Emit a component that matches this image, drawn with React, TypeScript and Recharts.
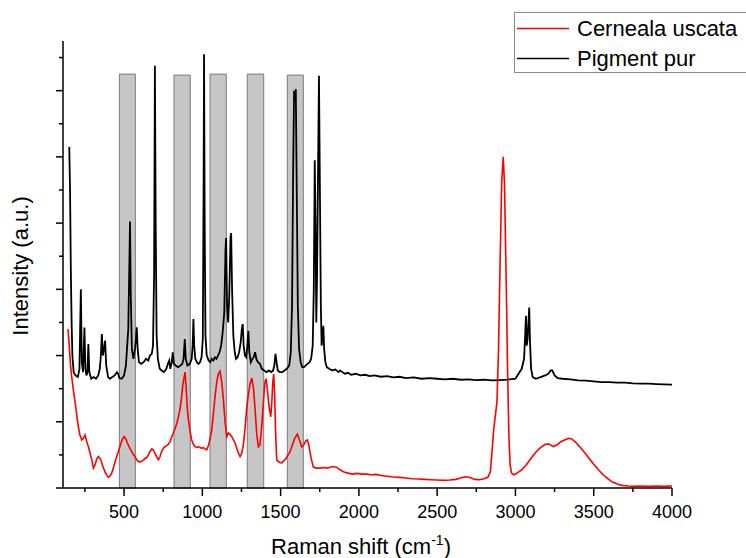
import React from "react";
import { LineChart, Line, XAxis, YAxis, ReferenceArea } from "recharts";

// Pigment pur (black)
const pigmentShift = [
  150, 155, 160, 165, 170, 178, 190, 205, 215, 224, 230, 238, 247, 253, 260, 266, 272, 278, 290, 305,
  320, 335, 345, 352, 358, 365, 372, 379, 386, 398, 410, 425, 440, 455, 462, 470, 485, 500, 512, 520,
  527, 533, 538, 543, 550, 560, 570, 576, 581, 587, 595, 610, 625, 640, 655, 665, 677, 685, 692, 697,
  702, 708, 716, 728, 740, 755, 770, 780, 789, 795, 805, 811, 818, 830, 845, 860, 872, 880, 888, 894,
  905, 920, 932, 938, 943, 948, 955, 965, 975, 985, 995, 1003, 1008, 1011, 1015, 1020, 1028, 1040, 1050, 1060,
  1070, 1080, 1090, 1100, 1110, 1120, 1130, 1140, 1148, 1152, 1158, 1165, 1172, 1180, 1184, 1190, 1198, 1207, 1215, 1225,
  1235, 1245, 1252, 1258, 1264, 1272, 1280, 1288, 1294, 1300, 1310, 1320, 1328, 1337, 1345, 1355, 1368, 1380, 1395, 1410,
  1425, 1440, 1452, 1460, 1467, 1474, 1482, 1495, 1510, 1525, 1540, 1555, 1565, 1573, 1580, 1586, 1591, 1597, 1603, 1610,
  1618, 1628, 1638, 1650, 1660, 1672, 1685, 1695, 1705, 1712, 1718, 1723, 1728, 1733, 1738, 1745, 1751, 1757, 1762, 1768,
  1773, 1778, 1786, 1795, 1810, 1830, 1850, 1870, 1880, 1895, 1910, 1930, 1950, 1980, 2010, 2040, 2070, 2100, 2140, 2180,
  2220, 2260, 2300, 2350, 2400, 2450, 2500, 2550, 2600, 2650, 2700, 2750, 2800, 2850, 2900, 2950, 3000, 3020, 3040, 3055,
  3062, 3067, 3072, 3078, 3083, 3088, 3093, 3100, 3110, 3130, 3160, 3190, 3210, 3225, 3235, 3250, 3270, 3300, 3350, 3400,
  3450, 3500, 3550, 3600, 3650, 3700, 3750, 3800, 3850, 3900, 3950, 4000,
];
const pigmentIntensity = [
  10.3, 9.0, 6.6, 5.0, 4.0, 3.5, 3.4, 3.35, 3.6, 6.0, 3.8, 3.5, 4.85, 3.6, 3.4, 3.5, 4.35, 3.5, 3.3, 3.35,
  3.3, 3.4, 3.6, 4.0, 4.65, 4.0, 4.2, 4.45, 3.7, 3.35, 3.3, 3.35, 3.4, 3.5, 3.45, 3.32, 3.3, 3.4, 3.7, 4.3,
  4.8, 6.5, 8.05, 5.8, 4.2, 3.9, 4.2, 4.5, 4.85, 4.2, 3.8, 3.75, 3.8, 3.9, 3.85, 4.0, 4.05, 4.3, 6.5, 12.75,
  8.0, 4.6, 3.9, 3.6, 3.55, 3.5, 3.6, 3.75, 3.85, 3.6, 3.8, 4.1, 3.75, 3.7, 3.65, 3.7, 3.75, 3.9, 4.5, 3.9,
  3.7, 3.75, 3.9, 4.3, 5.1, 4.3, 3.9, 3.8, 3.75, 3.8, 3.95, 4.5, 9.0, 13.1, 8.0, 4.6, 4.0, 3.85, 3.8, 3.9,
  3.85, 3.95, 3.9, 4.0, 4.1, 4.3, 4.7, 5.3, 7.2, 7.55, 5.5, 5.0, 5.8, 7.6, 7.7, 6.0, 4.6, 4.1, 3.9, 3.95,
  4.1, 4.4, 4.8, 4.95, 4.3, 4.0, 3.95, 4.3, 4.75, 4.1, 3.8, 3.9, 3.95, 4.1, 3.9, 3.8, 3.75, 3.6, 3.55, 3.5,
  3.55, 3.5, 3.55, 3.7, 4.05, 3.8, 3.55, 3.5, 3.5, 3.55, 3.6, 3.7, 4.1, 5.5, 9.5, 12.0, 11.7, 12.05, 9.0, 5.5,
  4.2, 3.8, 3.65, 3.65, 3.7, 3.75, 3.8, 3.9, 4.3, 6.0, 9.9, 8.0, 5.0, 6.5, 9.0, 12.45, 9.0, 5.5, 4.3, 4.6,
  4.9, 4.2, 3.8, 3.65, 3.6, 3.55, 3.58, 3.5, 3.55, 3.5, 3.45, 3.48, 3.42, 3.45, 3.4, 3.42, 3.38, 3.4, 3.36, 3.38,
  3.34, 3.36, 3.32, 3.34, 3.3, 3.32, 3.3, 3.28, 3.3, 3.27, 3.28, 3.26, 3.27, 3.25, 3.26, 3.27, 3.3, 3.45, 3.6, 3.9,
  4.6, 5.2, 4.3, 4.5, 5.0, 5.45, 4.4, 3.6, 3.35, 3.3, 3.35, 3.4, 3.45, 3.55, 3.55, 3.4, 3.32, 3.3, 3.28, 3.25,
  3.24, 3.22, 3.2, 3.2, 3.18, 3.18, 3.16, 3.15, 3.15, 3.14, 3.13, 3.12,
];

// Cerneala uscata (red)
const inkShift = [
  142, 150, 158, 166, 175, 187, 198, 208, 218, 230, 240, 251, 262, 272, 283, 294, 304, 315, 326, 336,
  345, 351, 365, 379, 390, 400, 410, 421, 432, 443, 453, 464, 474, 487, 500, 510, 521, 535, 549, 560,
  570, 581, 592, 602, 614, 625, 635, 645, 655, 665, 677, 687, 697, 708, 719, 730, 740, 751, 762, 772,
  783, 794, 805, 815, 826, 837, 847, 858, 868, 875, 882, 890, 897, 904, 911, 922, 932, 945, 955, 964,
  975, 985, 996, 1006, 1017, 1028, 1040, 1050, 1060, 1070, 1081, 1092, 1102, 1113, 1124, 1134, 1145, 1156, 1166, 1177,
  1188, 1199, 1209, 1220, 1230, 1241, 1252, 1262, 1273, 1284, 1295, 1305, 1316, 1327, 1338, 1348, 1358, 1368, 1380, 1393,
  1400, 1407, 1415, 1425, 1437, 1444, 1450, 1456, 1462, 1468, 1475, 1490, 1507, 1520, 1535, 1548, 1560, 1575, 1590, 1607,
  1620, 1635, 1648, 1660, 1671, 1682, 1695, 1709, 1730, 1751, 1775, 1800, 1830, 1858, 1880, 1905, 1930, 1960, 1990, 2020,
  2050, 2080, 2110, 2140, 2170, 2218, 2260, 2300, 2340, 2380, 2420, 2460, 2500, 2540, 2580, 2620, 2650, 2680, 2710, 2740,
  2770, 2800, 2825, 2840, 2852, 2862, 2872, 2882, 2892, 2902, 2912, 2922, 2930, 2940, 2950, 2958, 2966, 2975, 2990, 3010,
  3040, 3070, 3100, 3130, 3160, 3190, 3215, 3240, 3265, 3290, 3315, 3340, 3360, 3385, 3410, 3440, 3470, 3500, 3530, 3560,
  3590, 3620, 3650, 3680, 3720, 3760, 3800, 3850, 3900, 3950, 4000,
];
const inkIntensity = [
  4.8, 4.3, 3.7, 3.35, 3.0, 2.6, 2.2, 1.85, 1.6, 1.45, 1.5, 1.6, 1.4, 1.25, 1.05, 0.85, 0.6, 0.7, 0.88, 0.95,
  0.9, 0.85, 0.65, 0.48, 0.38, 0.32, 0.36, 0.45, 0.6, 0.8, 0.95, 1.1, 1.25, 1.45, 1.55, 1.5, 1.36, 1.22, 1.1, 1.0,
  0.95, 0.85, 0.8, 0.78, 0.82, 0.85, 0.9, 0.92, 1.0, 1.1, 1.18, 1.15, 1.05, 0.95, 0.85, 0.95, 1.1, 1.2, 1.25, 1.28,
  1.32, 1.4, 1.55, 1.66, 1.8, 1.95, 2.15, 2.4, 2.75, 3.1, 3.3, 3.5, 3.0, 2.4, 2.05, 1.7, 1.45, 1.3, 1.25, 1.22,
  1.25, 1.22, 1.2, 1.22, 1.18, 1.15, 1.3, 1.5, 1.75, 2.2, 2.75, 3.2, 3.45, 3.53, 3.2, 2.7, 2.0, 1.55, 1.66, 1.62,
  1.55, 1.45, 1.36, 1.2, 1.05, 0.95, 1.05, 1.3, 1.8, 2.45, 2.85, 3.15, 3.32, 3.0, 2.3, 1.6, 1.25, 1.3, 1.9, 2.8,
  3.2, 3.3, 3.0, 2.5, 2.15, 2.6, 3.2, 3.44, 2.8, 1.7, 0.85, 0.78, 0.76, 0.82, 0.9, 1.0, 1.09, 1.3, 1.5, 1.63,
  1.45, 1.24, 1.3, 1.42, 1.45, 1.25, 0.9, 0.63, 0.6, 0.6, 0.62, 0.6, 0.65, 0.63, 0.55, 0.48, 0.45, 0.42, 0.44, 0.42,
  0.42, 0.4, 0.41, 0.38, 0.36, 0.33, 0.32, 0.3, 0.28, 0.27, 0.26, 0.25, 0.24, 0.23, 0.24, 0.26, 0.3, 0.34, 0.32, 0.26,
  0.25, 0.28, 0.33, 0.5, 1.2, 1.8, 2.2, 2.6, 4.2, 6.8, 9.2, 10.0, 9.2, 6.5, 3.5, 1.6, 0.7, 0.45, 0.4, 0.45,
  0.55, 0.7, 0.9, 1.08, 1.22, 1.32, 1.33, 1.25, 1.3, 1.4, 1.45, 1.5, 1.48, 1.38, 1.25, 1.08, 0.9, 0.72, 0.55, 0.4,
  0.28, 0.18, 0.12, 0.08, 0.06, 0.05, 0.06, 0.05, 0.06, 0.05, 0.06,
];

// shaded bands
const bandStart = [470, 819, 1049, 1287, 1543];
const bandEnd = [572, 923, 1153, 1392, 1645];
const bandTop = [12.5, 12.47, 12.5, 12.5, 12.47];

const xTicks = [250, 500, 750, 1000, 1250, 1500, 1750, 2000, 2250, 2500, 2750, 3000, 3250, 3500, 3750, 4000];
const yTicks = [0, 1, 2, 3, 4, 5, 6, 7, 8, 9, 10, 11, 12, 13];

const pigmentData = pigmentShift.map((shift, i) => ({ shift, intensity: pigmentIntensity[i] }));
const inkData = inkShift.map((shift, i) => ({ shift, intensity: inkIntensity[i] }));

const FONT = "'Liberation Sans', Arial, sans-serif";

const XTick = (props: any) => {
  const { x, y, payload } = props;
  const major = payload.value % 500 === 0;
  return (
    <g>
      <line x1={x} x2={x} y1={y} y2={y + (major ? 8 : 4)} stroke="#000" strokeWidth={1.5} />
      {major && (
        <text x={x} y={y + 30} textAnchor="middle" fontSize={18} fontFamily={FONT} fill="#000">
          {payload.value}
        </text>
      )}
    </g>
  );
};

const YTick = (props: any) => {
  const { x, y, payload } = props;
  const major = payload.value % 2 === 0;
  return <line x1={x - (major ? 7 : 4)} x2={x} y1={y} y2={y} stroke="#000" strokeWidth={1.5} />;
};

export default function App() {
  return (
    <div style={{ position: "absolute", left: 0, top: 0, width: 746, height: 558, background: "#fff" }}>
      <LineChart width={746} height={558} margin={{ top: 41, right: 74, bottom: 30, left: 0 }}>
        <XAxis
          dataKey="shift"
          type="number"
          domain={[110, 4000]}
          ticks={xTicks}
          interval={0}
          height={40}
          tickSize={0}
          tickMargin={0}
          tickLine={false}
          tick={<XTick />}
          axisLine={{ stroke: "#000", strokeWidth: 1.5 }}
          allowDataOverflow
        />
        <YAxis
          type="number"
          domain={[0, 13.5]}
          ticks={yTicks}
          interval={0}
          width={63}
          tickSize={0}
          tickMargin={0}
          tickLine={false}
          tick={<YTick />}
          axisLine={{ stroke: "#000", strokeWidth: 1.5 }}
          allowDataOverflow
        />
        {bandStart.map((s, i) => (
          <ReferenceArea
            key={s}
            x1={s}
            x2={bandEnd[i]}
            y1={0}
            y2={bandTop[i]}
            fill="#c6c6c6"
            fillOpacity={1}
            stroke="#7a7a7a"
            strokeWidth={1}
          />
        ))}
        <Line
          data={pigmentData}
          dataKey="intensity"
          type="linear"
          stroke="#000000"
          strokeWidth={1.8}
          dot={false}
          isAnimationActive={false}
        />
        <Line
          data={inkData}
          dataKey="intensity"
          type="linear"
          stroke="#ff0000"
          strokeWidth={1.6}
          dot={false}
          isAnimationActive={false}
        />
      </LineChart>
      <svg
        width={746}
        height={558}
        style={{ position: "absolute", left: 0, top: 0, pointerEvents: "none" }}
        fontFamily={FONT}
      >
        <rect x={514.5} y={12.5} width={260} height={60} fill="#fff" stroke="#8c8c8c" strokeWidth={1} />
        <line x1={517} x2={569} y1={28.5} y2={28.5} stroke="#ff0000" strokeWidth={1.5} />
        <text x={577} y={36} fontSize={22} fill="#000">Cerneala uscata</text>
        <line x1={517} x2={569} y1={58.5} y2={58.5} stroke="#000" strokeWidth={1.5} />
        <text x={577} y={66} fontSize={22} fill="#000">Pigment pur</text>
        <text x={361} y={554} textAnchor="middle" fontSize={22} fill="#000">
          Raman shift (cm
          <tspan fontSize={14} dy={-9}>-1</tspan>
          <tspan dy={9}>)</tspan>
        </text>
        <text transform="translate(28,266) rotate(-90)" textAnchor="middle" fontSize={22} fill="#000">
          Intensity (a.u.)
        </text>
      </svg>
    </div>
  );
}
